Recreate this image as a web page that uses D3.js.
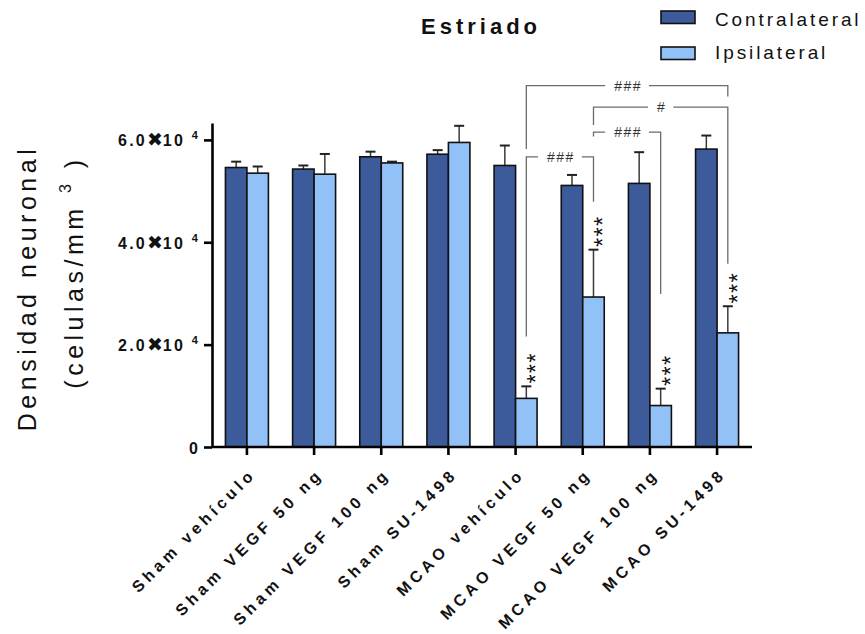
<!DOCTYPE html>
<html>
<head>
<meta charset="utf-8">
<script src="https://cdn.jsdelivr.net/npm/d3@7"></script>
<style>
  html, body { margin: 0; padding: 0; background: #fff; }
  svg { display: block; font-family: "Liberation Sans", Arial, sans-serif; }
</style>
</head>
<body>
<svg id="chart" width="865" height="634"></svg>
<script>
// ---------------- DATA ----------------
const categories = ["Sham vehículo", "Sham VEGF 50 ng", "Sham VEGF 100 ng", "Sham SU-1498",
                    "MCAO vehículo", "MCAO VEGF 50 ng", "MCAO VEGF 100 ng", "MCAO SU-1498"];
const seriesNames = ["Contralateral", "Ipsilateral"];
const contraMean = [54600, 54300, 56700, 57200, 55000, 51100, 51500, 58200];
const contraErr  = [1150, 700, 1000, 800, 3900, 2050, 6100, 2650];
const ipsiMean   = [53500, 53300, 55500, 59500, 9500, 29300, 8100, 22300];
const ipsiErr    = [1300, 3950, 250, 3250, 2350, 9250, 3300, 5200];
const ipsiStars  = ["", "", "", "", "***", "***", "***", "***"];

const yTickValues = [0, 20000, 40000, 60000];
const yTickMantissa = ["0", "2.0", "4.0", "6.0"];
const yTickExponent = "4";

// significance brackets (# vs MCAO groups), between ipsilateral bars
const bracketLabels   = ["###", "#", "###", "###"];
const bracketFrom     = [4, 5, 5, 4];
const bracketTo       = [7, 7, 6, 5];
const bracketLevel    = [70600, 66400, 61500, 56700];
const bracketLeftEnd  = [58200, 62900, 60650, 21600];
const bracketRightEnd = [68500, 35800, 29900, 47900];

const titleText = "Estriado";
const yTitle1 = "Densidad neuronal";

// ---------------- SETUP ----------------
const colors = {Contralateral: "#3D5A9B", Ipsilateral: "#92C1F8"};
const svg = d3.select("#chart");

const x = d3.scaleBand().domain(categories).range([212, 752]).paddingInner(0.36).paddingOuter(0.2);
const xs = d3.scaleBand().domain(seriesNames).range([0, x.bandwidth()]);
const y = d3.scaleLinear().domain([0, 63300]).range([447, 123]);

const rows = categories.map((c, i) => ({
  cat: c, i,
  vals: [
    {s: "Contralateral", m: contraMean[i], e: contraErr[i]},
    {s: "Ipsilateral", m: ipsiMean[i], e: ipsiErr[i]}
  ]
}));

// ---------------- BARS ----------------
const g = svg.append("g");
const groups = g.selectAll("g.grp").data(rows).join("g")
  .attr("class", "grp")
  .attr("transform", d => `translate(${x(d.cat)},0)`);

groups.selectAll("g.err").data(d => d.vals).join("g").attr("class", "err")
  .each(function(d) {
    const cx = xs(d.s) + xs.bandwidth() / 2;
    const gg = d3.select(this);
    gg.append("line").attr("x1", cx).attr("x2", cx)
      .attr("y1", y(d.m)).attr("y2", y(d.m + d.e))
      .attr("stroke", "#3a3a3a").attr("stroke-width", 1.5);
    gg.append("line").attr("x1", cx - 5).attr("x2", cx + 5)
      .attr("y1", y(d.m + d.e)).attr("y2", y(d.m + d.e))
      .attr("stroke", "#222").attr("stroke-width", 2);
  });

groups.selectAll("rect").data(d => d.vals).join("rect")
  .attr("x", d => xs(d.s))
  .attr("y", d => y(d.m))
  .attr("width", xs.bandwidth())
  .attr("height", d => y(0) - y(d.m))
  .attr("fill", d => colors[d.s])
  .attr("stroke", "#111")
  .attr("stroke-width", 1.6);

// stars above ipsilateral bars
const ipsiCx = i => x(categories[i]) + xs("Ipsilateral") + xs.bandwidth() / 2;
categories.forEach((c, i) => {
  if (!ipsiStars[i]) return;
  const top = y(ipsiMean[i] + ipsiErr[i]) - 3;
  svg.append("text")
    .attr("transform", `translate(${ipsiCx(i)},${top}) rotate(-90)`)
    .attr("x", 0).attr("y", 18)
    .attr("font-size", 23)
    .style("letter-spacing", "1.5px")
    .attr("fill", "#111")
    .text(ipsiStars[i]);
});

// brackets
bracketLabels.forEach((lab, k) => {
  const xa = ipsiCx(bracketFrom[k]);
  const xb = ipsiCx(bracketTo[k]);
  const yl = y(bracketLevel[k]);
  const xm = (xa + xb) / 2;
  const t = svg.append("text")
    .attr("x", xm + 1).attr("y", yl + 5)
    .attr("text-anchor", "middle")
    .attr("font-size", 14)
    .style("letter-spacing", "1.5px")
    .attr("fill", "#333")
    .text(lab);
  const w = t.node().getComputedTextLength();
  const gap = w / 2 + 8;
  const p1 = svg.append("path")
    .attr("d", `M${xa},${y(bracketLeftEnd[k])}V${yl}H${xm - gap}`);
  const p2 = svg.append("path")
    .attr("d", `M${xm + gap},${yl}H${xb}V${y(bracketRightEnd[k])}`);
  [p1, p2].forEach(p => p.attr("stroke", "#6b6b6b").attr("stroke-width", 1.3).attr("fill", "none"));
});

// ---------------- AXES ----------------
const yAxis = svg.append("g").attr("transform", "translate(212,0)")
  .call(d3.axisLeft(y).tickValues(yTickValues).tickSize(8).tickSizeOuter(0).tickFormat(""));
yAxis.select(".domain").attr("stroke", "#000").attr("stroke-width", 2.6);
yAxis.selectAll(".tick line").attr("stroke", "#000").attr("stroke-width", 2.6);
yAxis.selectAll(".tick").each(function(d) {
  const tx = d3.select(this).append("text")
    .attr("x", -12).attr("y", 6)
    .attr("text-anchor", "end")
    .attr("fill", "#111")
    .attr("font-size", 16).attr("font-weight", "bold")
    .style("letter-spacing", "2.2px");
  const idx = yTickValues.indexOf(d);
  if (d === 0) { tx.text(yTickMantissa[idx]); return; }
  tx.append("tspan").text(yTickMantissa[idx]);
  tx.append("tspan").attr("font-family", "DejaVu Sans").attr("font-size", 19)
    .style("letter-spacing", "0px").text("\u2716");
  tx.append("tspan").text("10 ");
  tx.append("tspan").attr("font-size", 11).attr("dy", -7).text(yTickExponent);
});

const xAxis = svg.append("g").attr("transform", "translate(0,447)")
  .call(d3.axisBottom(x).tickSize(8).tickSizeOuter(0));
xAxis.select(".domain").attr("stroke", "#000").attr("stroke-width", 2.6)
  .attr("d", "M212,0H752");
xAxis.selectAll(".tick line").attr("stroke", "#000").attr("stroke-width", 2.6);
xAxis.selectAll(".tick text")
  .attr("text-anchor", "end")
  .attr("x", 0).attr("y", 0).attr("dy", null)
  .attr("transform", "translate(10,28) rotate(-45)")
  .attr("fill", "#111")
  .attr("font-size", 16).attr("font-weight", "bold")
  .attr("font-family", "Liberation Sans, Arial, sans-serif")
  .style("letter-spacing", "4.2px");

// ---------------- TITLES ----------------
svg.append("text").attr("x", 421).attr("y", 34)
  .attr("font-size", 22).attr("font-weight", "bold")
  .style("letter-spacing", "4px").attr("fill", "#111")
  .text(titleText);

svg.append("text")
  .attr("transform", "translate(36,288) rotate(-90)")
  .attr("text-anchor", "middle")
  .attr("font-size", 25).style("letter-spacing", "4.5px").attr("fill", "#111")
  .text(yTitle1);

const yt2 = svg.append("text")
  .attr("transform", "translate(83,272) rotate(-90)")
  .attr("text-anchor", "middle")
  .attr("font-size", 25).style("letter-spacing", "4.5px").attr("fill", "#111");
yt2.append("tspan").text("(celulas/mm ");
yt2.append("tspan").attr("font-size", 16).attr("dy", -12).text("3");
yt2.append("tspan").attr("dy", 12).text(" )");

// ---------------- LEGEND ----------------
const leg = svg.append("g");
seriesNames.forEach((s, i) => {
  leg.append("rect").attr("x", 661).attr("y", 11 + i * 36).attr("width", 34).attr("height", 12.5)
    .attr("fill", colors[s]).attr("stroke", "#111").attr("stroke-width", 1.6);
  leg.append("text").attr("x", 715).attr("y", 26 + i * 32.5)
    .attr("font-size", 19).style("letter-spacing", "2.9px").attr("fill", "#111")
    .text(s);
});
</script>
</body>
</html>
